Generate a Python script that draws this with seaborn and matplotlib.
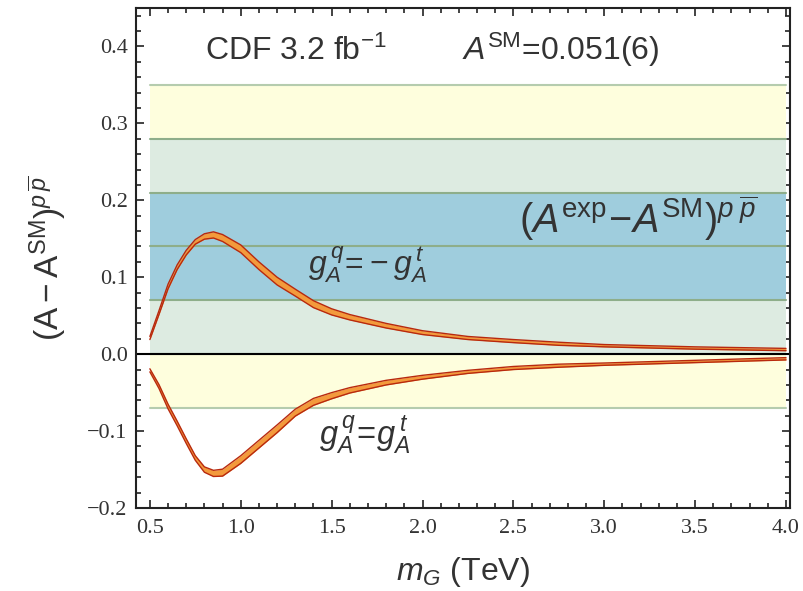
import numpy as np
import pandas as pd
import matplotlib
matplotlib.use("Agg")
import matplotlib.pyplot as plt
from matplotlib.ticker import MultipleLocator, FuncFormatter
import seaborn as sns

# ---- data ----
m_G = [0.5, 0.55, 0.6, 0.65, 0.7, 0.75, 0.8, 0.85, 0.9, 1.0, 1.1, 1.2, 1.3,
       1.4, 1.5, 1.6, 1.8, 2.0, 2.25, 2.5, 2.75, 3.0, 3.5, 4.0]
anti_center = [0.021, 0.054, 0.088, 0.113, 0.132, 0.146, 0.153, 0.155, 0.151,
               0.137, 0.115, 0.095, 0.080, 0.065, 0.055, 0.048, 0.037, 0.028,
               0.021, 0.017, 0.0135, 0.011, 0.008, 0.006]
same_center = [-0.021, -0.042, -0.068, -0.090, -0.113, -0.135, -0.150, -0.155,
               -0.154, -0.137, -0.117, -0.097, -0.076, -0.062, -0.054, -0.047,
               -0.037, -0.030, -0.023, -0.018, -0.015, -0.013, -0.0095, -0.006]
half_width = [0.002, 0.0025, 0.003, 0.003, 0.003, 0.003, 0.0035, 0.004, 0.0045,
              0.005, 0.005, 0.005, 0.0045, 0.0045, 0.004, 0.0035, 0.003, 0.0025,
              0.002, 0.002, 0.002, 0.0015, 0.0015, 0.0015]
exp_center = 0.14
exp_sigma = 0.07
x_range = [0.5, 4.0]
x_ticks = [0.5, 1.0, 1.5, 2.0, 2.5, 3.0, 3.5, 4.0]
y_ticks = [-0.2, -0.1, 0.0, 0.1, 0.2, 0.3, 0.4]

sns.set_theme(style="ticks")
plt.rcParams["mathtext.fontset"] = "custom"
plt.rcParams["mathtext.rm"] = "Liberation Sans"
plt.rcParams["mathtext.it"] = "Liberation Sans:italic"
plt.rcParams["mathtext.bf"] = "Liberation Sans:bold"
plt.rcParams["font.family"] = ["Liberation Sans", "DejaVu Sans"]

fig = plt.figure(figsize=(8.04, 5.91), dpi=100)
ax = fig.add_axes([0.169, 0.1404, 0.8136, 0.8461])

# experimental bands
band_cols = ["#FEFEDD", "#DDEBE1", "#9FCDDD"]
for n, col in zip([3, 2, 1], band_cols):
    ax.fill_between(x_range, exp_center - n * exp_sigma, exp_center + n * exp_sigma,
                    color=col, lw=0, zorder=1)
edge_col = "#8EAE8A"
for n in [-3, -2, -1, 0, 1, 2, 3]:
    yv = exp_center + n * exp_sigma
    ax.plot(x_range, [yv, yv], color=edge_col if abs(n) < 3 else "#B5CCAE",
            lw=1.5, zorder=2)

ax.axhline(0.0, color="black", lw=1.5, zorder=3)

# theory bands
df = pd.DataFrame({"m": m_G, "anti": anti_center, "same": same_center, "hw": half_width})
for col in ["anti", "same"]:
    lo = df[col] - df["hw"]
    hi = df[col] + df["hw"]
    ax.fill_between(df["m"], lo, hi, color="#F39A3C", lw=0, zorder=4)
    sns.lineplot(x=df["m"], y=lo, ax=ax, color="#B8290E", lw=1.0, zorder=5)
    sns.lineplot(x=df["m"], y=hi, ax=ax, color="#B8290E", lw=1.0, zorder=5)

ax.set_xlim(0.423, 4.022)
ax.set_ylim(-0.2, 0.45)
ax.set_xticks(x_ticks)
ax.set_yticks(y_ticks)
ax.xaxis.set_minor_locator(MultipleLocator(0.1))
ax.yaxis.set_minor_locator(MultipleLocator(0.02))
fmt = FuncFormatter(lambda v, p: f"{v:.1f}".replace("-", "\u2212"))
ax.xaxis.set_major_formatter(fmt)
ax.yaxis.set_major_formatter(fmt)
ax.tick_params(which="both", direction="in", top=True, right=True, width=1.2,
               color="#222222")
ax.tick_params(which="major", length=6, labelsize=16, labelcolor="#333333")
ax.tick_params(axis="x", which="major", pad=8)
ax.tick_params(axis="y", which="major", pad=6)
ax.tick_params(which="minor", length=3.5)
for lab in ax.get_xticklabels() + ax.get_yticklabels():
    lab.set_fontfamily("Liberation Serif")
for s in ax.spines.values():
    s.set_color("#222222")
    s.set_linewidth(1.5)
    s.set_zorder(6)

ax.set_xlabel(r"$m_G$ (TeV)", fontsize=23, color="#333333", labelpad=12)
ax.set_ylabel(r"$(\mathrm{A}-\mathrm{A}^{\mathrm{SM}})^{p\,\overline{p}}$",
              fontsize=24, color="#333333", labelpad=14)

tc = "#333333"
ax.text(0.803, 0.382, r"CDF 3.2 fb$^{-1}$", fontsize=23, color=tc, va="baseline")
ax.text(2.217, 0.382, r"$A^{\mathrm{SM}}$=0.051(6)", fontsize=23, color=tc, va="baseline")
ax.text(2.53, 0.158, r"$(A^{\mathrm{exp}}\!-\!A^{\mathrm{SM}})^{p\;\overline{p}}$",
        fontsize=28.5, color=tc, va="baseline", zorder=7)
ax.text(1.37, 0.104, r"$g_A^{\,q}\!=\!-g_A^{\,t}$", fontsize=23, color=tc,
        va="baseline", zorder=7)
ax.text(1.43, -0.117, r"$g_A^{\,q}\!=\!g_A^{\,t}$", fontsize=23.5, color=tc,
        va="baseline", zorder=7)

fig.savefig("out.png", dpi=100, facecolor="white")
